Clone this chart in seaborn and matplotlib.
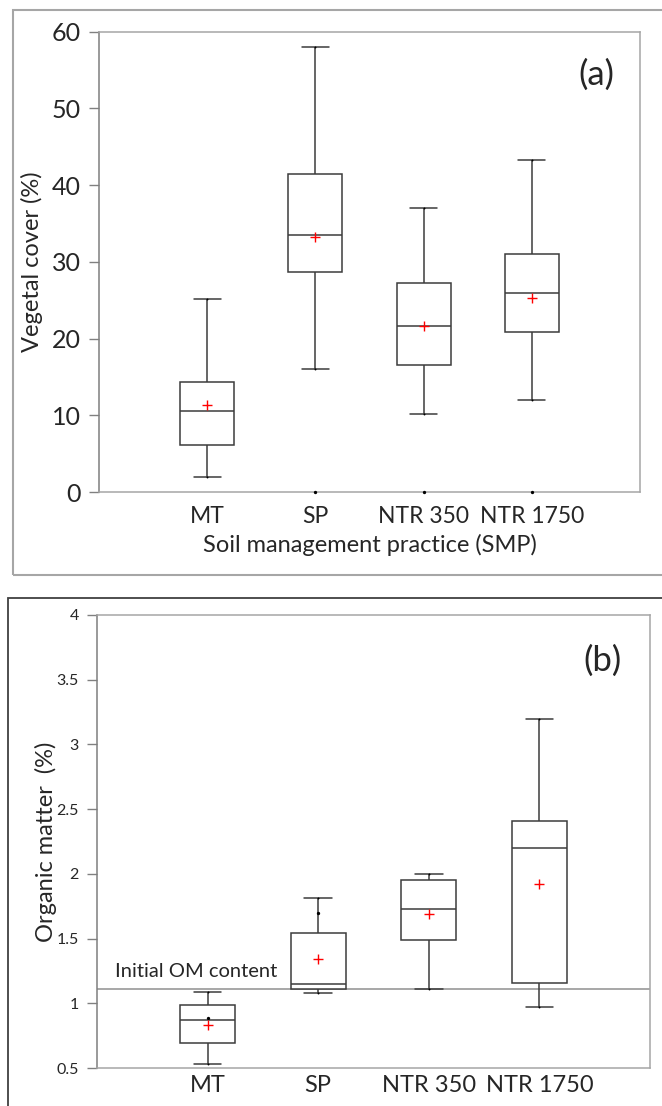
import numpy as np
import pandas as pd
import matplotlib
matplotlib.use("Agg")
import matplotlib.pyplot as plt
import matplotlib.transforms as mtransforms
from matplotlib.patches import Rectangle
import seaborn as sns

# ---------------- data ----------------
categories = ["MT", "SP", "NTR 350", "NTR 1750"]

# (a) Vegetal cover (%)
veg_low = [2.0, 16.0, 10.2, 12.0]
veg_q1 = [6.1, 28.7, 16.5, 20.9]
veg_med = [10.6, 33.5, 21.7, 26.0]
veg_q3 = [14.4, 41.4, 27.3, 31.0]
veg_high = [25.1, 58.0, 37.0, 43.3]
veg_mean = [11.4, 33.3, 21.6, 25.3]
veg_out_cat = ["SP", "NTR 350", "NTR 1750"]
veg_out_val = [0.0, 0.0, 0.0]

# (b) Organic matter (%)
om_low = [0.53, 1.08, 1.11, 0.97]
om_q1 = [0.69, 1.11, 1.49, 1.16]
om_med = [0.87, 1.15, 1.73, 2.20]
om_q3 = [0.99, 1.54, 1.95, 2.41]
om_high = [1.09, 1.81, 2.00, 3.20]
om_mean = [0.83, 1.34, 1.69, 1.92]
om_out_cat = ["MT", "SP"]
om_out_val = [0.89, 1.70]
initial_om = 1.11

# ---------------- style ----------------
sns.set_style("white")
plt.rcParams["font.family"] = ["Lato", "DejaVu Sans"]

W, H = 662, 1106
fig = plt.figure(figsize=(W / 100, H / 100), dpi=100)

BOX_LINE = "#3c3c3c"


def five_number_frame(low, q1, med, q3, high):
    rows = []
    for c, a, b, m, d, e in zip(categories, low, q1, med, q3, high):
        for v in (a, b, m, d, e):
            rows.append({"cat": c, "val": v})
    return pd.DataFrame(rows)


def draw_panel(ax, low, q1, med, q3, high, mean, out_cat, out_val):
    df = five_number_frame(low, q1, med, q3, high)
    sns.boxplot(data=df, x="cat", y="val", order=categories, whis=(0, 100),
                width=0.5, color="white", linecolor=BOX_LINE, linewidth=1.1,
                ax=ax)
    # tiny dots at whisker ends
    ends = pd.DataFrame({"cat": categories * 2, "val": list(low) + list(high)})
    sns.stripplot(data=ends, x="cat", y="val", order=categories, jitter=False,
                  size=1.4, color="black", ax=ax)
    # isolated points
    pts = pd.DataFrame({"cat": out_cat, "val": out_val})
    sns.stripplot(data=pts, x="cat", y="val", order=categories, jitter=False,
                  size=2.4, color="black", ax=ax, clip_on=False)
    # means
    mdf = pd.DataFrame({"cat": categories, "val": mean})
    sns.pointplot(data=mdf, x="cat", y="val", order=categories,
                  linestyle="none", marker="+", markersize=6.5,
                  markeredgewidth=1.0, color="red", errorbar=None, ax=ax)
    for coll in ax.collections:
        coll.set_zorder(5)
    for ln in ax.lines:
        if ln.get_color() == "red":
            ln.set_zorder(6)
    ax.set_xlim(-1, 4)
    ax.tick_params(axis="x", length=0, pad=10, labelsize=16.5)
    ax.tick_params(axis="y", direction="out", length=7, width=1,
                   color="#808080", left=True)
    ax.spines["left"].set_color("#7f7f7f")
    for s in ("top", "right", "bottom"):
        ax.spines[s].set_color("#a6a6a6")
    for s in ax.spines.values():
        s.set_linewidth(1.1)


# ---------------- panel (a) ----------------
ax1 = fig.add_axes([99 / W, 1 - 492 / H, 541 / W, (492 - 31.7) / H])
draw_panel(ax1, veg_low, veg_q1, veg_med, veg_q3, veg_high, veg_mean,
           veg_out_cat, veg_out_val)
ax1.set_ylim(0, 60)
ax1.set_yticks([0, 10, 20, 30, 40, 50, 60])
ax1.tick_params(axis="y", labelsize=18, pad=6)
ax1.set_ylabel("Vegetal cover (%)", fontsize=17, labelpad=6)
ax1.set_xlabel("Soil management practice (SMP)", fontsize=17, labelpad=5)
ax1.text(0.92, 0.906, "(a)", transform=ax1.transAxes, fontsize=25,
         ha="center", va="center")

# ---------------- panel (b) ----------------
ax2 = fig.add_axes([97 / W, 1 - 1068 / H, 553 / W, (1068 - 615) / H])
draw_panel(ax2, om_low, om_q1, om_med, om_q3, om_high, om_mean,
           om_out_cat, om_out_val)
ax2.set_ylim(0.5, 4)
ax2.set_yticks([0.5, 1, 1.5, 2, 2.5, 3, 3.5, 4])
ax2.set_yticklabels(["0.5", "1", "1.5", "2", "2.5", "3", "3.5", "4"])
ax2.tick_params(axis="y", labelsize=11.5, pad=6)
ax2.tick_params(axis="x", pad=5, labelsize=17)
ax2.set_ylabel("Organic matter  (%)", fontsize=17, labelpad=0)
ax2.set_xlabel("")
ax2.axhline(initial_om, color="#a0a0a0", lw=1.3, zorder=1)
blend = mtransforms.blended_transform_factory(ax2.transAxes, ax2.transData)
ax2.annotate("Initial OM content", xy=((115 - 97) / 553, initial_om),
             xycoords=blend, xytext=(0, 18), textcoords="offset pixels",
             fontsize=14.5, ha="left", va="center")
ax2.text(0.915, 0.90, "(b)", transform=ax2.transAxes, fontsize=25,
         ha="center", va="center")

# ---------------- panel frames ----------------
fig.patches.append(Rectangle((12.5 / W, 1 - 575 / H), 1.0, (575 - 10) / H,
                             transform=fig.transFigure, fill=False,
                             edgecolor="#a6a6a6", lw=1.5, zorder=0))
fig.patches.append(Rectangle((8 / W, -0.1), 1.0, (1 - 598 / H) + 0.1,
                             transform=fig.transFigure, fill=False,
                             edgecolor="#404040", lw=1.3, zorder=0))

fig.savefig("out.png", dpi=100)
